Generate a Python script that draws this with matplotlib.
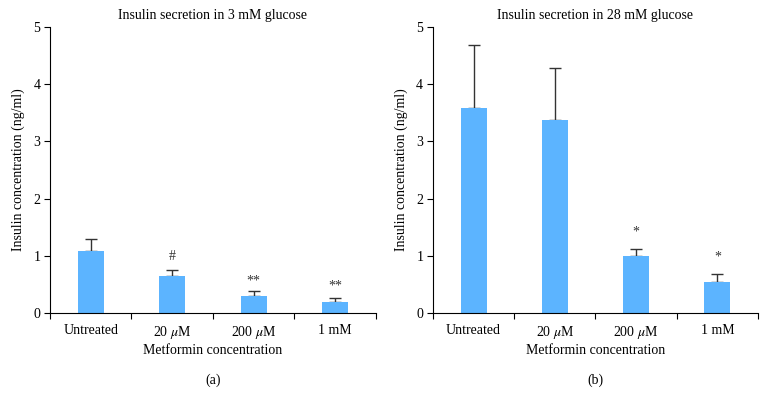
import numpy as np
import matplotlib.pyplot as plt

plt.rcParams['font.family'] = ['Liberation Serif', 'DejaVu Serif']
plt.rcParams['mathtext.fontset'] = 'stix'

categories = ["Untreated", r"20 $\mu$M", r"200 $\mu$M", "1 mM"]

lowMeans = [1.09, 0.65, 0.30, 0.20]
lowErr = [0.21, 0.11, 0.085, 0.06]
lowMarks = ["", "#", "**", "**"]
lowMarkY = [None, 0.98, 0.56, 0.47]

highMeans = [3.59, 3.38, 1.00, 0.54]
highErr = [1.10, 0.90, 0.12, 0.15]
highMarks = ["", "", "*", "*"]
highMarkY = [None, None, 1.42, 0.98]

barColor = "#5cb4ff"

fig = plt.figure(figsize=(7.67, 4.01), dpi=100)
axA = fig.add_axes([0.0652, 0.2195, 0.4248, 0.7132])
axB = fig.add_axes([0.5645, 0.2195, 0.4238, 0.7132])


def drawPanel(ax, means, errs, marks, markY, title, letter):
    x = np.arange(len(categories))
    ax.bar(x, means, width=0.32, color=barColor, zorder=2)
    ax.errorbar(x, means, yerr=[np.zeros(len(errs)), errs], fmt="none",
                ecolor="#333333", elinewidth=1, capsize=4, capthick=1, zorder=1)
    for i in range(len(marks)):
        if marks[i]:
            ax.text(x[i], markY[i], marks[i], ha="center", va="center",
                    fontsize=10, color="#333333")
    ax.set_xlim(-0.5, 3.5)
    ax.set_ylim(0, 5)
    ax.set_yticks([0, 1, 2, 3, 4, 5])
    ax.set_xticks(x)
    ax.set_xticklabels(categories, fontsize=10)
    ax.set_xticks(np.arange(-0.5, 4.0, 1.0), minor=True)
    ax.tick_params(axis="x", which="major", length=0, pad=8)
    ax.tick_params(axis="x", which="minor", length=4, direction="out", width=0.8)
    ax.tick_params(axis="y", length=4, width=0.8, labelsize=10, pad=3)
    ax.spines["top"].set_visible(False)
    ax.spines["right"].set_visible(False)
    ax.spines["left"].set_linewidth(0.8)
    ax.spines["bottom"].set_linewidth(0.8)
    ax.set_title(title, fontsize=10, pad=6)
    ax.set_ylabel("Insulin concentration (ng/ml)", fontsize=10, labelpad=6)
    ax.set_xlabel("Metformin concentration", fontsize=10, labelpad=2)
    ax.text(0.5, -0.235, letter, transform=ax.transAxes, ha="center",
            va="center", fontsize=10)


drawPanel(axA, lowMeans, lowErr, lowMarks, lowMarkY,
          "Insulin secretion in 3 mM glucose", "(a)")
drawPanel(axB, highMeans, highErr, highMarks, highMarkY,
          "Insulin secretion in 28 mM glucose", "(b)")

fig.savefig("out.png", dpi=100)
